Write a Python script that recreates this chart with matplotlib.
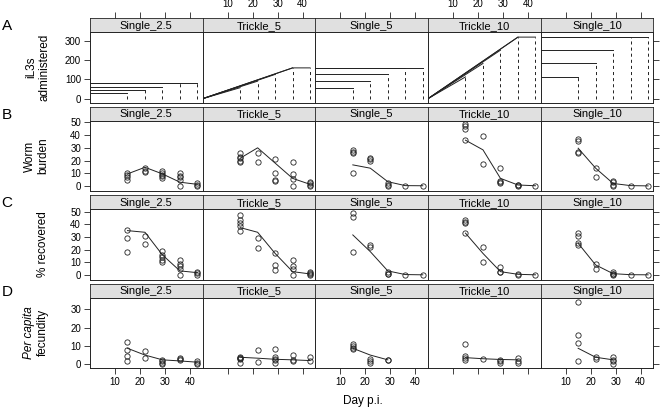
import numpy as np
import matplotlib
matplotlib.use("Agg")
import matplotlib.pyplot as plt

plt.rcParams['font.family'] = ['Liberation Sans', 'DejaVu Sans']
plt.rcParams['lines.scale_dashes'] = False

groups = ["Single_2.5", "Trickle_5", "Single_5", "Trickle_10", "Single_10"]
days = [15, 22, 29, 36, 43]
trickle_stop = 36

# iL3s administered (cumulative dose per necropsy group)
dose = {
    "Single_2.5": [28, 46, 63, 80, 80],
    "Trickle_5": [57, 91, 126, 160, 160],
    "Single_5": [57, 91, 126, 160, 160],
    "Trickle_10": [113, 183, 252, 320, 320],
    "Single_10": [113, 183, 252, 320, 320],
}

worm_pts = {
    "Single_2.5": [[10, 9, 7, 5], [14, 12, 11], [12, 10, 9, 8, 6], [10, 8, 7, 5, 0], [2, 1, 0]],
    "Trickle_5": [[26, 23, 22, 20, 19], [26, 19], [21, 10, 4.5, 4], [19, 9.5, 5.5, 0], [3.4, 2, 0.8, 0]],
    "Single_5": [[28, 27, 26, 10], [22, 21, 20], [2, 1, 0], [0], [0]],
    "Trickle_10": [[49, 47, 45, 36], [39, 17], [14, 4, 3, 2.6], [1, 0.5, 0], [0]],
    "Single_10": [[37, 35, 27, 26], [14.5, 7], [4, 3, 1, 0], [0], [0]],
}
worm_fit = {
    "Single_2.5": [9.5, 14.7, 9.5, 3, 1.3],
    "Trickle_5": [21.8, 30, 18, 6, 1.3],
    "Single_5": [16.6, 14, 3.4, 0.3, 0.2],
    "Trickle_10": [36, 28.4, 6, 0.8, 0.2],
    "Single_10": [29.7, 14, 2, 0.3, 0.1],
}

recov_pts = {
    "Single_2.5": [[35.5, 29, 18], [31, 24.5], [19, 16, 14, 12, 10], [12, 9, 7, 5, 0], [2.6, 1.5, 0]],
    "Trickle_5": [[47, 43, 41, 39, 35], [29, 21], [17, 8, 4], [12, 7, 5, 0], [2.6, 1.5, 1, 0]],
    "Single_5": [[49, 46, 18], [24, 22], [2, 1, 0.5], [0], [0]],
    "Trickle_10": [[43.5, 42, 41, 33], [22, 10], [6, 2.5, 2], [0.5, 0], [0]],
    "Single_10": [[33, 31, 25, 24], [8.7, 4.7], [2, 1, 0.5, 0], [0], [0]],
}
recov_fit = {
    "Single_2.5": [35, 33.7, 15.8, 3.2, 1.8],
    "Trickle_5": [37.4, 33.7, 17, 2.6, 0.8],
    "Single_5": [31.6, 18.4, 3.2, 0.3, 0.1],
    "Trickle_10": [33, 17, 2.6, 0.5, 0.1],
    "Single_10": [25, 7.9, 1, 0.2, 0.1],
}

fec_pts = {
    "Single_2.5": [[12.4, 7.5, 4.5, 1.5], [7, 3.6], [2.4, 1.5, 0.5, 0], [3.3, 2.7, 2.4], [1.5, 0.5, 0]],
    "Trickle_5": [[4.2, 3.6, 3.3, 2.7, 0.5], [7.5, 1.1], [8.4, 3.8, 2.9, 2.4, 0.9], [5, 2.4, 1.5], [4.2, 1.5]],
    "Single_5": [[11, 10, 9, 8.2], [3, 1.5, 0.5], [2.4, 2.2]],
    "Trickle_10": [[11, 4.5, 3.6, 2.4], [2.7], [2.4, 1.5, 0.5], [3.3, 1.5, 0.5]],
    "Single_10": [[34, 16, 11.5, 2], [3.8, 2.7], [3.8, 2.4, 1.5, 0]],
}
fec_fit = {
    "Single_2.5": [8.7, 5, 2.4, 1.8, 1.1],
    "Trickle_5": [3.8, 3.3, 2.7, 2.4, 2],
    "Single_5": [8.7, 5, 2.4],
    "Trickle_10": [3.6, 3, 2.6, 2.4],
    "Single_10": [8.7, 3.8, 2.4],
}

row_letters = ["A", "B", "C", "D"]
row_ylims = [(-21, 345), (-4, 51.3), (-3.6, 52), (-2, 36.4)]
row_yticks = [[0, 100, 200, 300], [0, 10, 20, 30, 40, 50], [0, 10, 20, 30, 40, 50], [0, 10, 20, 30]]
xlim = (0, 45.1)
xticks = [10, 20, 30, 40]

W, H = 662, 412
fig = plt.figure(figsize=(W / 100, H / 100), dpi=100)


def box(x0, y0, x1, y1):
    return [x0 / W, 1 - y1 / H, (x1 - x0) / W, (y1 - y0) / H]


ink = "#222222"
tick_kw = dict(length=4, width=0.6, color=ink, labelsize=7, pad=2.5)
col_w = 112.67
panels = []
for r in range(4):
    strip_top = 18.3 + r * 88.4
    ptop = strip_top + 14
    pbot = ptop + 70.4
    row = []
    for c in range(5):
        x0 = 90 + c * col_w
        x1 = x0 + col_w
        sax = fig.add_axes(box(x0, strip_top, x1, ptop))
        sax.set_facecolor("#e0e0e0")
        sax.set_xlim(xlim)
        sax.set_yticks([])
        sax.text(0.5, 0.45, groups[c], transform=sax.transAxes, ha="center", va="center", fontsize=8)
        for s in sax.spines.values():
            s.set_linewidth(0.6)
            s.set_color(ink)
        if r == 0:
            sax.xaxis.tick_top()
            sax.set_xticks(xticks)
            sax.tick_params(axis="x", **tick_kw)
            if c % 2 == 0:
                sax.set_xticklabels([])
        else:
            sax.set_xticks([])

        ax = fig.add_axes(box(x0, ptop, x1, pbot))
        ax.set_xlim(xlim)
        ax.set_ylim(row_ylims[r])
        for s in ax.spines.values():
            s.set_linewidth(0.7)
            s.set_color(ink)
        if r == 3:
            ax.set_xticks(xticks)
            ax.tick_params(axis="x", **tick_kw)
            if c % 2 == 1:
                ax.set_xticklabels([])
        else:
            ax.set_xticks([])
        if c == 0:
            ax.set_yticks(row_yticks[r])
            ax.tick_params(axis="y", **tick_kw)
        elif c == 4:
            ax.yaxis.tick_right()
            ax.set_yticks(row_yticks[r])
            ax.tick_params(axis="y", **tick_kw)
            ax.set_yticklabels([])
        else:
            ax.set_yticks([])
        row.append(ax)
    panels.append(row)

    fig.text(1.5 / W, 1 - (strip_top + 8) / H, row_letters[r], ha="left", va="center", fontsize=11)

# row A: doses
for c, g in enumerate(groups):
    ax = panels[0][c]
    for d, v in zip(days, dose[g]):
        if g.startswith("Trickle"):
            ax.plot([0, min(d, trickle_stop), d], [0, v, v], color=ink, lw=0.7)
        else:
            ax.plot([0, d], [v, v], color=ink, lw=0.7)
        ax.plot([d, d], [0, v], color=ink, lw=0.7, linestyle=(0, (2.2, 2.2)))

# rows B-D: observations and fitted lines
for r, (pts, fit) in enumerate([(worm_pts, worm_fit), (recov_pts, recov_fit), (fec_pts, fec_fit)], start=1):
    for c, g in enumerate(groups):
        ax = panels[r][c]
        for d, vals in zip(days, pts[g]):
            ax.plot([d] * len(vals), vals, "o", ms=3.8, mfc="none", mec=ink, mew=0.6)
        ax.plot(days[:len(fit[g])], fit[g], color=ink, lw=0.7)

# y labels
lab = dict(rotation=90, ha="center", va="center", fontsize=8.5)
yc = [32.3 + 35.2 + r * 88.4 for r in range(4)]
fig.text(31 / W, 1 - yc[0] / H, "iL3s", **lab)
fig.text(44 / W, 1 - yc[0] / H, "administered", **lab)
fig.text(30 / W, 1 - yc[1] / H, "Worm", **lab)
fig.text(43 / W, 1 - yc[1] / H, "burden", **lab)
fig.text(43 / W, 1 - yc[2] / H, "% recovered", **lab)
fig.text(29 / W, 1 - yc[3] / H, "Per capita", style="italic", **lab)
fig.text(43 / W, 1 - yc[3] / H, "fecundity", **lab)

fig.text(363 / W, 1 - 401 / H, "Day p.i.", ha="center", va="center", fontsize=8.5)

plt.savefig("out.png", dpi=100)
